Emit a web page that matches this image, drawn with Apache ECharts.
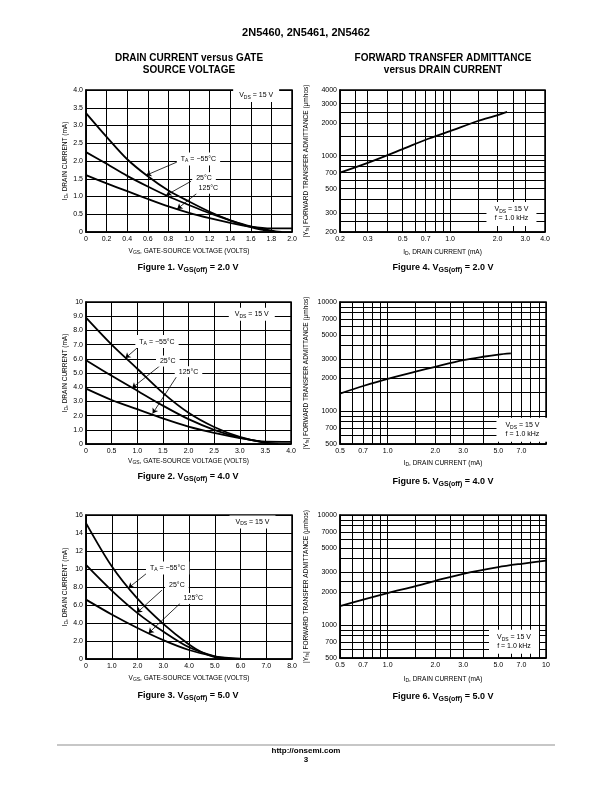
<!DOCTYPE html>
<html><head><meta charset="utf-8">
<script src="https://cdn.jsdelivr.net/npm/echarts@6/dist/echarts.min.js"></script>
<style>html,body{margin:0;padding:0;background:#fff}#c{width:612px;height:792px}</style>
</head><body><div id="c"></div>
<script>
// ---------- DATA ----------
// Figure 1: VGS(off) = 2.0 V  (ID mA vs VGS volts)
const fig1_m55_x = [0, 0.2, 0.4, 0.6, 0.8, 1.0, 1.2, 1.4, 1.6, 1.7, 1.8, 1.85];
const fig1_m55_y = [3.35, 2.68, 2.05, 1.57, 1.17, 0.86, 0.57, 0.33, 0.14, 0.07, 0.02, 0];
const fig1_25_x = [0, 0.2, 0.4, 0.6, 0.8, 1.0, 1.2, 1.4, 1.6, 1.8, 1.9];
const fig1_25_y = [2.25, 1.92, 1.58, 1.28, 1.0, 0.76, 0.53, 0.33, 0.16, 0.04, 0];
const fig1_125_x = [0, 0.2, 0.4, 0.6, 0.8, 1.0, 1.2, 1.4, 1.6, 1.8, 2.0];
const fig1_125_y = [1.6, 1.37, 1.15, 0.93, 0.72, 0.54, 0.39, 0.26, 0.15, 0.1, 0.1];
const fig1XLabels = ['0','0.2','0.4','0.6','0.8','1.0','1.2','1.4','1.6','1.8','2.0'];
const fig1YLabels = ['0','0.5','1.0','1.5','2.0','2.5','3.0','3.5','4.0'];

// Figure 2: VGS(off) = 4.0 V
const fig2_m55_x = [0, 0.5, 1.0, 1.5, 2.0, 2.5, 3.0, 3.5, 3.7];
const fig2_m55_y = [8.9, 7.0, 5.3, 3.6, 2.2, 1.2, 0.5, 0.08, 0];
const fig2_25_x = [0, 0.5, 1.0, 1.5, 2.0, 2.5, 3.0, 3.5, 3.75];
const fig2_25_y = [5.9, 4.8, 3.75, 2.7, 1.75, 1.0, 0.45, 0.1, 0];
const fig2_125_x = [0, 0.5, 1.0, 1.5, 2.0, 2.5, 3.0, 3.5, 4.0];
const fig2_125_y = [3.9, 3.1, 2.45, 1.8, 1.22, 0.78, 0.42, 0.16, 0.15];
const fig2XLabels = ['0','0.5','1.0','1.5','2.0','2.5','3.0','3.5','4.0'];
const fig2YLabels = ['0','1.0','2.0','3.0','4.0','5.0','6.0','7.0','8.0','9.0','10'];

// Figure 3: VGS(off) = 5.0 V
const fig3_m55_x = [0, 1.0, 2.0, 3.0, 4.0, 4.5, 5.0, 5.4];
const fig3_m55_y = [15.1, 10.3, 6.7, 3.9, 1.6, 0.75, 0.2, 0];
const fig3_25_x = [0, 1.0, 2.0, 3.0, 4.0, 5.0, 5.5, 5.8];
const fig3_25_y = [10.45, 7.6, 5.1, 3.05, 1.3, 0.3, 0.08, 0];
const fig3_125_x = [0, 1.0, 2.0, 3.0, 4.0, 5.0, 6.0];
const fig3_125_y = [6.6, 4.95, 3.45, 2.1, 1.0, 0.3, 0.03];
const fig3XLabels = ['0','1.0','2.0','3.0','4.0','5.0','6.0','7.0','8.0'];
const fig3YLabels = ['0','2.0','4.0','6.0','8.0','10','12','14','16'];

// Figure 4: |Yfs| (umhos) vs ID (mA), VGS(off) = 2.0 V
const fig4_x = [0.2, 0.3, 0.5, 0.7, 1.0, 1.5, 2.0, 2.3];
const fig4_y = [700, 860, 1150, 1400, 1680, 2080, 2350, 2520];
const fig4XTicks = [0.2, 0.3, 0.5, 0.7, 1, 2, 3, 4];
const fig4XLabels = ['0.2','0.3','0.5','0.7','1.0','2.0','3.0','4.0'];
const fig4YTicks = [200, 300, 500, 700, 1000, 2000, 3000, 4000];
const fig4YLabels = ['200','300','500','700','1000','2000','3000','4000'];
const fig4XGrid = [0.2, 0.25, 0.3, 0.4, 0.5, 0.6, 0.7, 0.8, 0.9, 1, 1.5, 2, 2.5, 3, 4];
const fig4YGrid = [200, 250, 300, 400, 500, 600, 700, 800, 900, 1000, 1500, 2000, 2500, 3000, 4000];

// Figure 5: VGS(off) = 4.0 V
const fig5_x = [0.5, 0.7, 1.0, 1.5, 2.0, 3.0, 4.0, 5.0, 6.0];
const fig5_y = [1450, 1700, 1980, 2300, 2550, 2930, 3150, 3300, 3380];
const fig5XTicks = [0.5, 0.7, 1, 2, 3, 5, 7];
const fig5XLabels = ['0.5','0.7','1.0','2.0','3.0','5.0','7.0'];

// Figure 6: VGS(off) = 5.0 V
const fig6_x = [0.5, 0.7, 1.0, 1.5, 2.0, 3.0, 5.0, 7.0, 10];
const fig6_y = [1480, 1700, 1950, 2250, 2520, 2920, 3360, 3600, 3840];
const fig6XTicks = [0.5, 0.7, 1, 2, 3, 5, 7, 10];
const fig6XLabels = ['0.5','0.7','1.0','2.0','3.0','5.0','7.0','10'];

const fig56YTicks = [500, 700, 1000, 2000, 3000, 5000, 7000, 10000];
const fig56YLabels = ['500','700','1000','2000','3000','5000','7000','10000'];
const fig56XGrid = [0.5, 0.6, 0.7, 0.8, 0.9, 1, 1.5, 2, 2.5, 3, 4, 5, 6, 7, 8, 9, 10];
const fig56YGrid = [500, 600, 700, 800, 900, 1000, 1500, 2000, 2500, 3000, 4000, 5000, 6000, 7000, 8000, 9000, 10000];

// ---------- STYLE / LAYOUT ----------
const FONT = "'Liberation Sans', Arial, Helvetica, sans-serif";
const BLACK = '#000';
const subRich = {
  n: {fontSize: 7, fontFamily: FONT, color: BLACK, lineHeight: 9},
  s: {fontSize: 5, fontFamily: FONT, color: BLACK, lineHeight: 9, verticalAlign: 'bottom', padding: [3, 0, 0, 0]}
};
const nameRich = {
  s: {fontSize: 5, fontFamily: FONT, color: BLACK, verticalAlign: 'bottom', padding: [3, 0, 0, 0]}
};

const pairs = (xs, ys) => xs.map((x, i) => [x, ys[i]]);

function linAxis(gi, min, max, interval, labels, isX, name, nameGap) {
  return {
    gridIndex: gi, type: 'value', min: min, max: max, interval: interval,
    axisLine: {show: true, onZero: false, lineStyle: {color: BLACK, width: 1.5}},
    axisTick: {show: false},
    splitLine: {show: true, lineStyle: {color: BLACK, width: 1}},
    axisLabel: {
      fontSize: 7, fontFamily: FONT, color: BLACK, margin: isX ? 4 : 3,
      formatter: v => labels[Math.round((v - min) / interval)] || ''
    },
    name: name, nameLocation: 'middle', nameGap: nameGap,
    nameRotate: isX ? 0 : 90,
    nameTextStyle: {fontSize: 6.5, fontFamily: FONT, color: BLACK, rich: nameRich}
  };
}
function logAxis(gi, min, max, ticks, labels, gridVals, isX, name, nameGap) {
  return {
    gridIndex: gi, type: 'log', logBase: 10, min: min, max: max,
    axisLine: {show: true, onZero: false, lineStyle: {color: BLACK, width: 1.5}},
    axisTick: {show: false, customValues: gridVals},
    splitLine: {show: true, lineStyle: {color: BLACK, width: 1}},
    minorSplitLine: {show: false},
    axisLabel: {
      fontSize: 7, fontFamily: FONT, color: BLACK, margin: isX ? 4 : 3,
      customValues: ticks,
      formatter: v => {
        const i = ticks.findIndex(t => Math.abs(t - v) / t < 1e-6);
        return i >= 0 ? labels[i] : '';
      }
    },
    name: name, nameLocation: 'middle', nameGap: nameGap,
    nameRotate: isX ? 0 : 90,
    nameTextStyle: {fontSize: 6.5, fontFamily: FONT, color: BLACK, rich: nameRich}
  };
}

function arrow(from, to) {
  return [{coord: from}, {coord: to}];
}
const arrowStyle = {
  silent: true, symbol: ['none', 'arrow'], symbolSize: 5, animation: false,
  lineStyle: {color: BLACK, width: 0.8, type: 'solid'}, label: {show: false},
  emphasis: {disabled: true}
};
function textBox(coord, text, padding) {
  return {
    coord: coord,
    label: {show: true, position: 'inside', formatter: text, backgroundColor: '#fff',
      padding: padding || [2, 3], rich: subRich, color: BLACK, fontSize: 7, fontFamily: FONT}
  };
}
const markPointBase = {
  silent: true, symbol: 'rect', symbolSize: 1, animation: false,
  itemStyle: {color: 'rgba(0,0,0,0)'}
};

function curve(xi, xs, ys, arrows, boxes) {
  const s = {
    type: 'line', xAxisIndex: xi, yAxisIndex: xi, data: pairs(xs, ys),
    smooth: 0.3, showSymbol: false, silent: true, z: 5,
    lineStyle: {color: BLACK, width: 1.8}
  };
  if (arrows && arrows.length) s.markLine = Object.assign({}, arrowStyle, {data: arrows});
  if (boxes && boxes.length) s.markPoint = Object.assign({}, markPointBase, {data: boxes});
  return s;
}

const VDS = '{n|V}{s|DS}{n| = 15 V}';
const VDS2 = '{n|V}{s|DS}{n| = 15 V}\n{n|f = 1.0 kHz}';
const TA = '{n|T}{s|A}{n| = −55°C}';

const grids = [
  {left: 86, top: 90, width: 206, height: 142},
  {left: 86, top: 302, width: 205, height: 142},
  {left: 86, top: 515, width: 206, height: 144},
  {left: 340, top: 90, width: 205, height: 142},
  {left: 340, top: 302, width: 206, height: 142},
  {left: 340, top: 515, width: 206, height: 143}
].map(g => Object.assign(g, {show: true, borderColor: BLACK, borderWidth: 1.5,
  backgroundColor: 'rgba(0,0,0,0)', containLabel: false, outerBoundsMode: 'none'}));

const VGSname = 'V{s|GS}, GATE-SOURCE VOLTAGE (VOLTS)';
const IDname = 'I{s|D}, DRAIN CURRENT (mA)';
const YFSname = '|Y{s|fs}| FORWARD TRANSFER ADMITTANCE (μmhos)';

const xAxes = [
  linAxis(0, 0, 2, 0.2, fig1XLabels, true, VGSname, 15),
  linAxis(1, 0, 4, 0.5, fig2XLabels, true, VGSname, 13),
  linAxis(2, 0, 8, 1, fig3XLabels, true, VGSname, 15),
  logAxis(3, 0.2, 4, fig4XTicks, fig4XLabels, fig4XGrid, true, IDname, 16),
  logAxis(4, 0.5, 10, fig5XTicks, fig5XLabels, fig56XGrid, true, IDname, 15.5),
  logAxis(5, 0.5, 10, fig6XTicks, fig6XLabels, fig56XGrid, true, IDname, 17.5)
];
const yAxes = [
  linAxis(0, 0, 4, 0.5, fig1YLabels, false, IDname, 16),
  linAxis(1, 0, 10, 1, fig2YLabels, false, IDname, 16),
  linAxis(2, 0, 16, 2, fig3YLabels, false, IDname, 16),
  logAxis(3, 200, 4000, fig4YTicks, fig4YLabels, fig4YGrid, false, YFSname, 30),
  logAxis(4, 500, 10000, fig56YTicks, fig56YLabels, fig56YGrid, false, YFSname, 30),
  logAxis(5, 500, 10000, fig56YTicks, fig56YLabels, fig56YGrid, false, YFSname, 30)
];

const series = [
  // Figure 1
  curve(0, fig1_m55_x, fig1_m55_y, [arrow([0.883, 1.97], [0.585, 1.6])],
        [textBox([1.092, 2.054], TA, [2, 4]), textBox([1.652, 3.847], VDS, [2, 6])]),
  curve(0, fig1_25_x, fig1_25_y, [arrow([1.02, 1.43], [0.78, 1.04])],
        [textBox([1.146, 1.531], '{n|25°C}', [1, 4])]),
  curve(0, fig1_125_x, fig1_125_y, [arrow([1.075, 1.085], [0.886, 0.65])],
        [textBox([1.188, 1.234], '{n|125°C}', [1, 3])]),
  // Figure 2
  curve(1, fig2_m55_x, fig2_m55_y, [arrow([1.06, 6.96], [0.77, 6.05])],
        [textBox([1.385, 7.21], TA, [2, 4]), textBox([3.235, 9.14], VDS, [2, 6])]),
  curve(1, fig2_25_x, fig2_25_y, [arrow([1.436, 5.49], [0.9, 3.95])],
        [textBox([1.596, 5.84], '{n|25°C}', [1, 4])]),
  curve(1, fig2_125_x, fig2_125_y, [arrow([1.776, 4.79], [1.3, 2.15])],
        [textBox([2.0, 5.09], '{n|125°C}', [1, 4])]),
  // Figure 3
  curve(2, fig3_m55_x, fig3_m55_y, [arrow([2.43, 9.69], [1.65, 7.9])],
        [textBox([3.17, 10.1], TA, [2, 4]), textBox([6.465, 15.22], VDS, [2, 6])]),
  curve(2, fig3_25_x, fig3_25_y, [arrow([2.95, 7.65], [1.98, 5.15])],
        [textBox([3.53, 8.2], '{n|25°C}', [1, 4])]),
  curve(2, fig3_125_x, fig3_125_y, [arrow([3.72, 6.35], [2.43, 2.87])],
        [textBox([4.17, 6.73], '{n|125°C}', [1, 4])]),
  // Figures 4-6
  curve(3, fig4_x, fig4_y, [], [textBox([2.45, 292], VDS2, [3, 8])]),
  curve(4, fig5_x, fig5_y, [], [textBox([7.1, 675], VDS2, [3, 9])]),
  curve(5, fig6_x, fig6_y, [], [textBox([6.28, 702], VDS2, [3, 8])])
];

// ---------- TEXT (titles, captions, footer) ----------
const boldRich = {
  b: {fontSize: 9, fontWeight: 'bold', fontFamily: FONT, fill: BLACK, color: BLACK, lineHeight: 12},
  s: {fontSize: 7, fontWeight: 'bold', fontFamily: FONT, fill: BLACK, color: BLACK, lineHeight: 12, verticalAlign: 'bottom', padding: [4, 0, 0, 0]}
};
function txt(x, y, text, size, weight) {
  return {type: 'text', x: x, y: y, silent: true,
    style: {text: text, fontSize: size, fontWeight: weight || 'bold', fontFamily: FONT, fill: BLACK,
      align: 'center', verticalAlign: 'middle', textAlign: 'center', textVerticalAlign: 'middle'}};
}
function caption(x, y, n, v) {
  return {type: 'text', x: x, y: y, silent: true,
    style: {text: '{b|Figure ' + n + '. V}{s|GS(off)}{b| = ' + v + ' V}', rich: boldRich,
      fontSize: 9, fontWeight: 'bold', fontFamily: FONT, fill: BLACK,
      align: 'center', verticalAlign: 'middle', textAlign: 'center', textVerticalAlign: 'middle'}};
}
const graphics = [
  txt(306, 33, '2N5460, 2N5461, 2N5462', 11),
  txt(189, 58.5, 'DRAIN CURRENT versus GATE', 10),
  txt(189, 70.5, 'SOURCE VOLTAGE', 10),
  txt(443, 58.5, 'FORWARD TRANSFER ADMITTANCE', 10),
  txt(443, 70.5, 'versus DRAIN CURRENT', 10),
  caption(188, 268, 1, '2.0'),
  caption(188, 477, 2, '4.0'),
  caption(188, 696, 3, '5.0'),
  caption(443, 268, 4, '2.0'),
  caption(443, 482, 5, '4.0'),
  caption(443, 697, 6, '5.0'),
  {type: 'line', silent: true, shape: {x1: 57, y1: 745, x2: 555, y2: 745},
    style: {stroke: '#b4b4b4', lineWidth: 1.5}},
  txt(306, 751, 'http://onsemi.com', 8),
  txt(306, 760, '3', 8)
];

const chart = echarts.init(document.getElementById('c'), null, {renderer: 'canvas', width: 612, height: 792});
chart.setOption({
  animation: false,
  backgroundColor: '#fff',
  textStyle: {fontFamily: FONT},
  grid: grids,
  xAxis: xAxes,
  yAxis: yAxes,
  series: series,
  graphic: {elements: graphics}
});
</script>
</body></html>
